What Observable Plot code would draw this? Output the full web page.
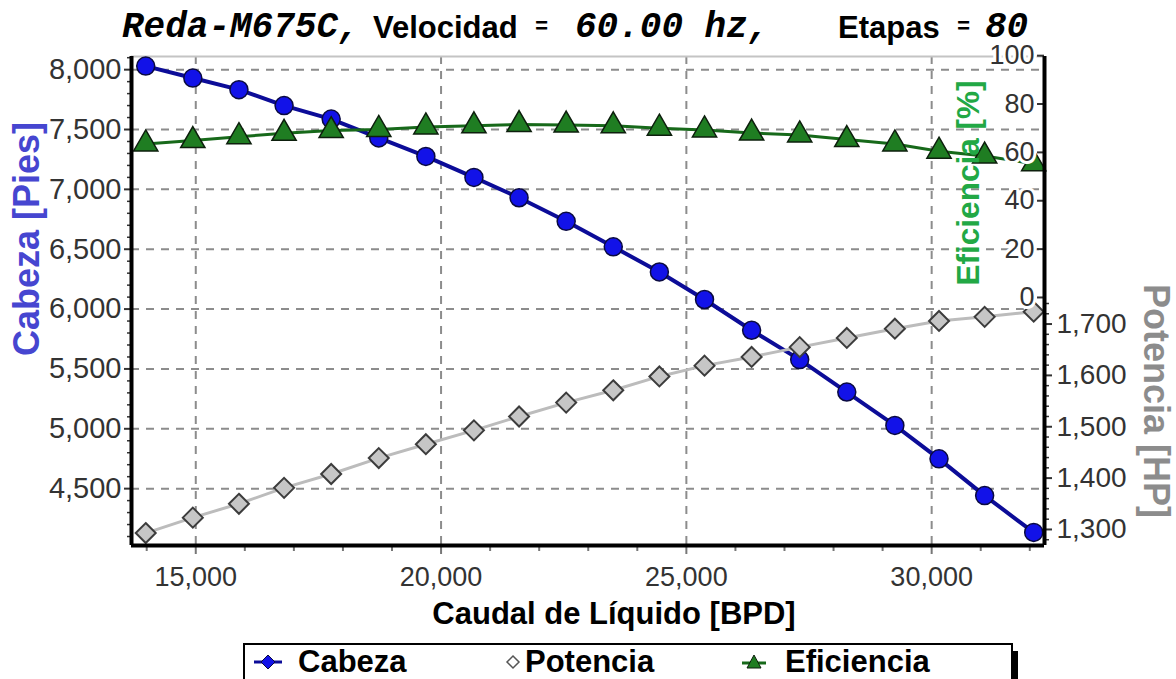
<!DOCTYPE html>
<html>
<head>
<meta charset="utf-8">
<script src="https://cdn.jsdelivr.net/npm/d3@7"></script>
<script src="https://cdn.jsdelivr.net/npm/@observablehq/plot@0.6"></script>
<style>
  html, body { margin: 0; padding: 0; background: #fff; }
  #wrap { width: 1176px; }
  #title { position: relative; width: 1176px; height: 40px; }
  #title span { position: absolute; top: 14px; line-height: 28px; height: 28px; white-space: pre; color: #000; }
  .mono { font-family: "Liberation Mono", "DejaVu Sans Mono", monospace; font-style: italic; font-weight: bold; font-size: 36px; }
  .sans { font-family: "Liberation Sans", Arial, sans-serif; font-weight: bold; font-size: 31px; }
  .eq { font-family: "Liberation Mono", monospace; font-weight: bold; font-size: 22px; }
  #legend { position: relative; width: 1176px; height: 39px; overflow: hidden; }
  #legbox { position: absolute; left: 243px; top: 3px; width: 766px; height: 44px;
            border-top: 2px solid #000; border-left: 2px solid #000; border-right: 2px solid #000;
            box-shadow: 5px 8px 0 0 #000; background: #fff; }
  .item { position: absolute; top: 1px; height: 32px; line-height: 32px;
          font-family: "Liberation Sans", Arial, sans-serif; font-weight: bold; font-size: 31px; color: #000; }
  .item svg { position: absolute; top: 6px; }
</style>
</head>
<body>
<div id="wrap">
  <div id="title"></div>
  <div id="chart"></div>
  <div id="legend"><div id="legbox"></div></div>
</div>
<script>
// ---- Data ----
const caudal = [13980, 14940, 15880, 16800, 17760, 18730, 19690, 20670, 21590, 22550,
                23510, 24450, 25370, 26330, 27310, 28270, 29250, 30150, 31080, 32080];
const cabeza = [8030, 7930, 7833, 7700, 7587, 7430, 7275, 7100, 6930, 6733,
                6520, 6310, 6080, 5823, 5578, 5307, 5028, 4749, 4442, 4134];
const potencia = [1293, 1323, 1350, 1381, 1408, 1439, 1466, 1493, 1520, 1547,
                  1571, 1598, 1619, 1636, 1655, 1673, 1691, 1706, 1714, 1724];
const eficiencia = [63.5, 64.9, 66.5, 67.9, 69.0, 69.5, 70.5, 71.0, 71.5, 71.3,
                    71.0, 70.0, 69.3, 68.0, 67.2, 65.3, 63.5, 60.5, 58.5, 55.3];

const caudalTicks = [15000, 20000, 25000, 30000];
const cabezaTicks = [4500, 5000, 5500, 6000, 6500, 7000, 7500, 8000];
const potenciaTicks = [1300, 1400, 1500, 1600, 1700];
const eficienciaTicks = [0, 20, 40, 60, 80, 100];

const seriesNames = ["Cabeza", "Potencia", "Eficiencia"];
const titleModel = "Reda-M675C,";
const titleVelLabel = "Velocidad";
const titleVelValue = "60.00 hz,";
const titleEtaLabel = "Etapas";
const titleEtaValue = "80";
const xTitle = "Caudal de Líquido [BPD]";
const yTitle = "Cabeza [Pies]";
const effTitle = "Eficiencia [%]";
const powTitle = "Potencia [HP]";

// ---- Scales ----
const xDomain = [13690, 32300];
const yDomain = [4025, 8110];
// secondary axes mapped onto the primary (Cabeza) y scale
const effToY = d3.scaleLinear().domain([0, 100]).range([6097, 8117]);
const powToY = d3.scaleLinear().domain([1300, 1700]).range([4159, 5875]);

const rows = caudal.map((c, i) => ({caudal: c, cabeza: cabeza[i], potencia: potencia[i], eficiencia: eficiencia[i]}));

const cabezaMinor = d3.range(4100, 8101, 100).filter(v => v % 500 !== 0);
const caudalMinor = d3.range(14000, 32001, 1000).filter(v => v % 5000 !== 0);
const potenciaMinor = d3.range(1280, 1741, 20).filter(v => v % 100 !== 0);

const W = 1176, H = 600;
const M = {top: 16, right: 132, bottom: 95, left: 131};
const frameW = W - M.left - M.right;
const fmt = d3.format(",");
const tickColor = "#333";
const gridStyle = {stroke: "#8c8c8c", strokeOpacity: 1, strokeWidth: 2, strokeDasharray: "8,7"};

// ---- Title ----
const title = document.getElementById("title");
[
  [titleModel, "mono", 122],
  [titleVelLabel, "sans", 373],
  ["=", "eq", 535],
  [titleVelValue, "mono", 575],
  [titleEtaLabel, "sans", 838],
  ["=", "eq", 957],
  [titleEtaValue, "mono", 985]
].forEach(([t, cls, left]) => {
  const s = document.createElement("span");
  s.className = cls; s.textContent = t; s.style.left = left + "px";
  title.appendChild(s);
});

// ---- Chart ----
const chart = Plot.plot({
  width: W, height: H,
  marginTop: M.top, marginRight: M.right, marginBottom: M.bottom, marginLeft: M.left,
  style: {fontFamily: "'Liberation Sans', Arial, sans-serif", background: "white", overflow: "visible"},
  x: {domain: xDomain},
  y: {domain: yDomain},
  marks: [
    Plot.gridY(cabezaTicks, gridStyle),
    Plot.gridX(caudalTicks, gridStyle),
    Plot.ruleY([yDomain[1]], {stroke: "#c4c4c4", strokeWidth: 2}),

    // left axis
    Plot.axisY(cabezaMinor, {anchor: "left", tickSize: 4, tickFormat: () => "", stroke: tickColor, strokeWidth: 1.5, label: null}),
    Plot.axisY(cabezaTicks, {anchor: "left", tickSize: 7, tickPadding: 3, tickFormat: fmt, fontSize: 29, color: tickColor, strokeWidth: 2, label: null}),
    // bottom axis
    Plot.axisX(caudalMinor, {anchor: "bottom", tickSize: 6, tickFormat: () => "", stroke: "#777", strokeWidth: 2, label: null}),
    Plot.axisX(caudalTicks, {anchor: "bottom", tickSize: 9, tickPadding: 12, tickFormat: fmt, fontSize: 27, color: tickColor, stroke: "#777", strokeWidth: 2, label: null}),
    // potencia axis (right, outside)
    Plot.axisY(potenciaMinor.map(v => powToY(v)), {anchor: "right", tickSize: 4, tickFormat: () => "", stroke: tickColor, strokeWidth: 1.5, label: null}),
    Plot.axisY(potenciaTicks.map(v => powToY(v)), {anchor: "right", tickSize: 7, tickPadding: 5,
      tickFormat: v => fmt(Math.round(powToY.invert(v) / 10) * 10), fontSize: 28, color: tickColor, strokeWidth: 2, label: null}),

    // series
    Plot.line(rows, {x: "caudal", y: "cabeza", stroke: "#0c0c98", strokeWidth: 4}),
    Plot.dot(rows, {x: "caudal", y: "cabeza", r: 9, fill: "#1212e8", stroke: "#0a0a40", strokeWidth: 1.5}),
    Plot.line(rows, {x: "caudal", y: d => powToY(d.potencia), stroke: "#bcbcbc", strokeWidth: 3}),
    Plot.dot(rows, {x: "caudal", y: d => powToY(d.potencia), symbol: "diamond2", r: 9, fill: "#c6c6c6", stroke: "#3c3c3c", strokeWidth: 2}),
    Plot.line(rows, {x: "caudal", y: d => effToY(d.eficiencia), stroke: "#17691a", strokeWidth: 3}),
    Plot.dot(rows, {x: "caudal", y: d => effToY(d.eficiencia), symbol: "triangle", r: 9, fill: "#1f7d22", stroke: "#0d1f0d", strokeWidth: 1.5}),

    // eficiencia axis (inside right edge)
    Plot.ruleY(eficienciaTicks, {y: d => effToY(d), insetLeft: frameW - 7, stroke: tickColor, strokeWidth: 2}),
    Plot.text(eficienciaTicks, {y: d => effToY(d), text: d => String(d), frameAnchor: "right", textAnchor: "end",
      lineAnchor: "middle", dx: -10, fontSize: 27, fill: tickColor, stroke: "white", strokeWidth: 6, paintOrder: "stroke"}),

    // frame lines
    Plot.ruleX([xDomain[0]], {stroke: "#000", strokeWidth: 4}),
    Plot.ruleX([xDomain[1]], {stroke: "#000", strokeWidth: 4}),
    Plot.ruleY([yDomain[0]], {stroke: "#000", strokeWidth: 4}),

    // axis titles
    Plot.text([xTitle], {text: d => d, frameAnchor: "bottom", textAnchor: "middle", lineAnchor: "middle", dx: 26, dy: 69,
      fontSize: 31, fontWeight: "bold", fill: "#000"}),
    Plot.text([yTitle], {text: d => d, frameAnchor: "left", textAnchor: "middle", lineAnchor: "middle", rotate: -90, dx: -104, dy: -62,
      fontSize: 36, fontWeight: "bold", fill: "#4646d0"}),
    Plot.text([effTitle], {text: d => d, frameAnchor: "right", textAnchor: "middle", lineAnchor: "middle", rotate: -90, dx: -76, dy: -118,
      fontSize: 31.5, fontWeight: "bold", fill: "#22a845"}),
    Plot.text([powTitle], {text: d => d, frameAnchor: "right", textAnchor: "middle", lineAnchor: "middle", rotate: 90, dx: 111, dy: 100,
      fontSize: 36, fontWeight: "bold", fill: "#8c8c8c"})
  ]
});
document.getElementById("chart").appendChild(chart);

// ---- Legend ----
const legbox = document.getElementById("legbox");
const swatches = {
  Cabeza: '<svg width="30" height="20" viewBox="0 0 30 20"><line x1="1" y1="10" x2="29" y2="10" stroke="#0c0c98" stroke-width="3"/><path d="M15 3 L22 10 L15 17 L8 10 Z" fill="#1212e8" stroke="#0a0a40" stroke-width="1"/></svg>',
  Potencia: '<svg width="20" height="20" viewBox="0 0 20 20"><path d="M10 4 L16 10 L10 16 L4 10 Z" fill="#fff" stroke="#555" stroke-width="1.5"/></svg>',
  Eficiencia: '<svg width="30" height="20" viewBox="0 0 30 20"><line x1="3" y1="11" x2="27" y2="11" stroke="#17691a" stroke-width="3"/><path d="M15 3 L22 16 L8 16 Z" fill="#1f7d22" stroke="#0d1f0d" stroke-width="1"/></svg>'
};
const legendPos = {Cabeza: [8, 53], Potencia: [258, 280], Eficiencia: [494, 540]};
seriesNames.forEach(name => {
  const [sx, tx] = legendPos[name];
  const sw = document.createElement("div");
  sw.className = "item"; sw.style.left = sx + "px"; sw.innerHTML = swatches[name];
  legbox.appendChild(sw);
  const t = document.createElement("div");
  t.className = "item"; t.style.left = tx + "px"; t.textContent = name;
  legbox.appendChild(t);
});
</script>
</body>
</html>
